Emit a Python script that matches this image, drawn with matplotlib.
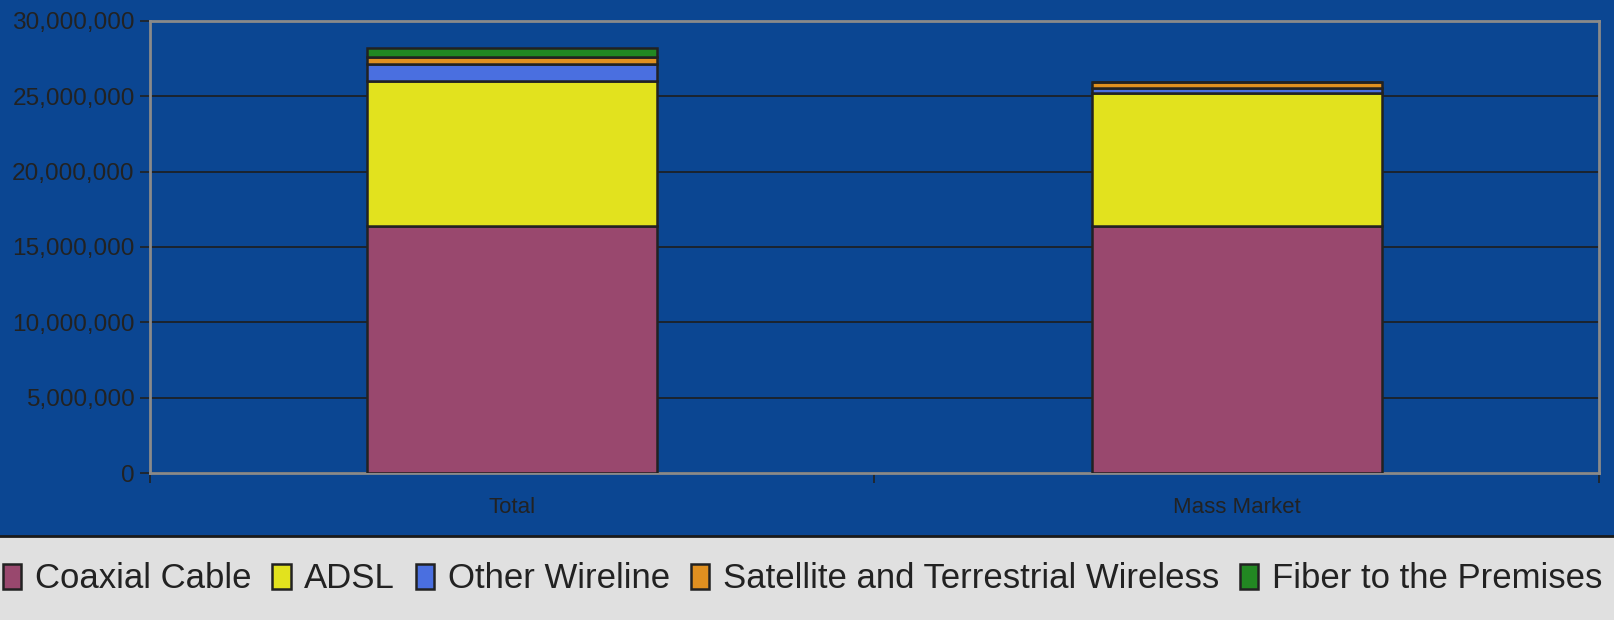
import matplotlib
matplotlib.use("Agg")
import matplotlib.pyplot as plt
from matplotlib.patches import Rectangle
from matplotlib.ticker import FuncFormatter, MultipleLocator
import numpy as np

plt.rcParams['font.family'] = ['Liberation Sans', 'DejaVu Sans']

categories = ["Total", "Mass Market"]
series_names = ["Coaxial Cable", "ADSL", "Other Wireline",
                "Satellite and Terrestrial Wireless", "Fiber to the Premises"]
coaxial = [16_420_000, 16_420_000]
adsl = [9_570_000, 8_820_000]
other_wireline = [1_150_000, 290_000]
satellite = [490_000, 420_000]
fiber = [570_000, 0]
values = [coaxial, adsl, other_wireline, satellite, fiber]
colors = ["#99486e", "#e2e21e", "#4a6fe0", "#e09020", "#228822"]

W, H = 1615, 620
fig = plt.figure(figsize=(W / 100, H / 100), dpi=100)
fig.patch.set_facecolor("#e0e0e0")

# blue background region
split = 1 - 536 / H
fig.add_artist(Rectangle((0, split), 1, 1 - split, transform=fig.transFigure,
                         facecolor="#0b4692", edgecolor="none", zorder=0))
fig.add_artist(plt.Line2D([0, 1], [split, split], transform=fig.transFigure,
                          color="#1a1a1a", lw=2, zorder=1))

ax = fig.add_axes([150 / W, 1 - 473 / H, (1599 - 150) / W, (473 - 21) / H])
ax.set_facecolor("none")

x = np.arange(len(categories))
bottom = np.zeros(len(categories))
handles = []
for name, vals, c in zip(series_names, values, colors):
    v = np.array(vals, dtype=float)
    b = ax.bar(x, v, 0.40, bottom=bottom, color=c, edgecolor="#222222",
               linewidth=1.8, label=name, zorder=3)
    handles.append(b)
    bottom += v

ax.set_xlim(-0.5, 1.5)
ax.set_ylim(0, 30_000_000)
ax.yaxis.set_major_locator(MultipleLocator(5_000_000))
ax.yaxis.set_major_formatter(FuncFormatter(lambda v, p: f"{int(v):,}"))
ax.grid(axis="y", color="#1e1e1e", linewidth=1.2, zorder=1)
ax.set_axisbelow(True)

ax.set_xticks([-0.5, 0.5, 1.5])
ax.set_xticklabels([])
ax.tick_params(axis="x", length=7, width=1.2, color="#222222", direction="out")
ax.tick_params(axis="y", length=7, width=1.2, color="#222222", direction="out",
               labelsize=17.6, labelcolor="#222222", pad=4)
for i, cat in enumerate(categories):
    ax.text(x[i], -0.076, cat, transform=ax.get_xaxis_transform(),
            ha="center", va="center", fontsize=16, color="#222222")

for s in ["top", "right", "left", "bottom"]:
    ax.spines[s].set_color("#8a8a8a")
    ax.spines[s].set_linewidth(2)

leg = fig.legend(handles=handles, labels=series_names, loc="center",
                 bbox_to_anchor=(0.497, 1 - 579 / H), ncol=5, frameon=False,
                 fontsize=25, handlelength=0.53, handleheight=0.7,
                 handletextpad=0.39, columnspacing=0.6, labelcolor="#222222")

fig.savefig("out.png", dpi=100, facecolor=fig.get_facecolor())
